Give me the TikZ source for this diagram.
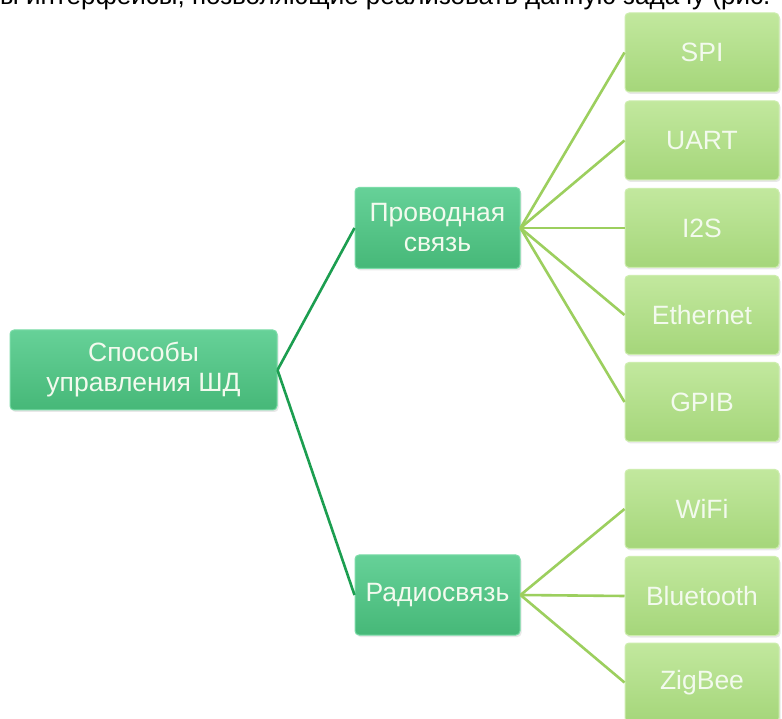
\documentclass[tikz,border=0pt]{standalone}
\usepackage{fontspec}
\setmainfont{Liberation Sans}
\usetikzlibrary{shadows}

\definecolor{mgTop}{HTML}{66D198}
\definecolor{mgBot}{HTML}{46B878}
\definecolor{mgEdge}{HTML}{7BDCA8}
\definecolor{lgTop}{HTML}{C2E89E}
\definecolor{lgBot}{HTML}{A5D67A}
\definecolor{lgEdge}{HTML}{CDEDAE}
\definecolor{rootLine}{HTML}{1C9E50}
\definecolor{leafLine}{HTML}{9CCF5E}
\definecolor{boxText}{HTML}{F3FAEE}

\tikzset{
  box/.style={rounded corners=4pt, inner sep=0pt, align=center,
    text=boxText, font=\fontsize{26.5}{30}\selectfont,
    drop shadow={opacity=0.18, shadow xshift=1.5pt, shadow yshift=-2pt}},
  midbox/.style={box, top color=mgTop, bottom color=mgBot, draw=mgEdge, line width=1pt},
  leafbox/.style={box, top color=lgTop, bottom color=lgBot, draw=lgEdge, line width=1pt,
    minimum width=154pt, minimum height=79pt},
  rootlink/.style={draw=rootLine, line width=2.6pt},
  leaflink/.style={draw=leafLine, line width=2.6pt}
}

\begin{document}
\begin{tikzpicture}[x=1pt,y=1pt]
\useasboundingbox (0,0) rectangle (782,718);
\clip (0,0) rectangle (782,718);
\fill[white] (0,0) rectangle (782,718);

% line of running text above the chart, cut by the page edge
\node[anchor=base west, inner sep=0pt, font=\fontsize{26}{30}\selectfont] (prose) at (0,713)
  {ы интерфейсы, позволяющие реализовать данную задачу (рис.};

% boxes
\node[midbox, minimum width=267pt, minimum height=80pt] (root) at (143.5,348)
  {Способы\\управления ШД};
\node[midbox, minimum width=165pt, minimum height=81pt] (wired) at (437.5,490)
  {Проводная\\связь};
\node[midbox, minimum width=165pt, minimum height=80pt] (radio) at (437.5,123)
  {Радиосвязь};

\node[leafbox] (spi)  at (702,665.5) {SPI};
\node[leafbox] (uart) at (702,577.5) {UART};
\node[leafbox] (iis)  at (702,490)   {I2S};
\node[leafbox] (eth)  at (702,403)   {Ethernet};
\node[leafbox] (gpib) at (702,316)   {GPIB};
\node[leafbox] (wifi) at (702,209)   {WiFi};
\node[leafbox] (bt)   at (702,122)   {Bluetooth};
\node[leafbox] (zig)  at (702,35.5)  {ZigBee};

% connectors
\path[rootlink] (root.east) -- (wired.west);
\path[rootlink] (root.east) -- (radio.west);
\foreach \n in {spi,uart,iis,eth,gpib}
  \path[leaflink] (wired.east) -- (\n.west);
\foreach \n in {wifi,bt,zig}
  \path[leaflink] (radio.east) -- (\n.west);
\end{tikzpicture}
\end{document}
